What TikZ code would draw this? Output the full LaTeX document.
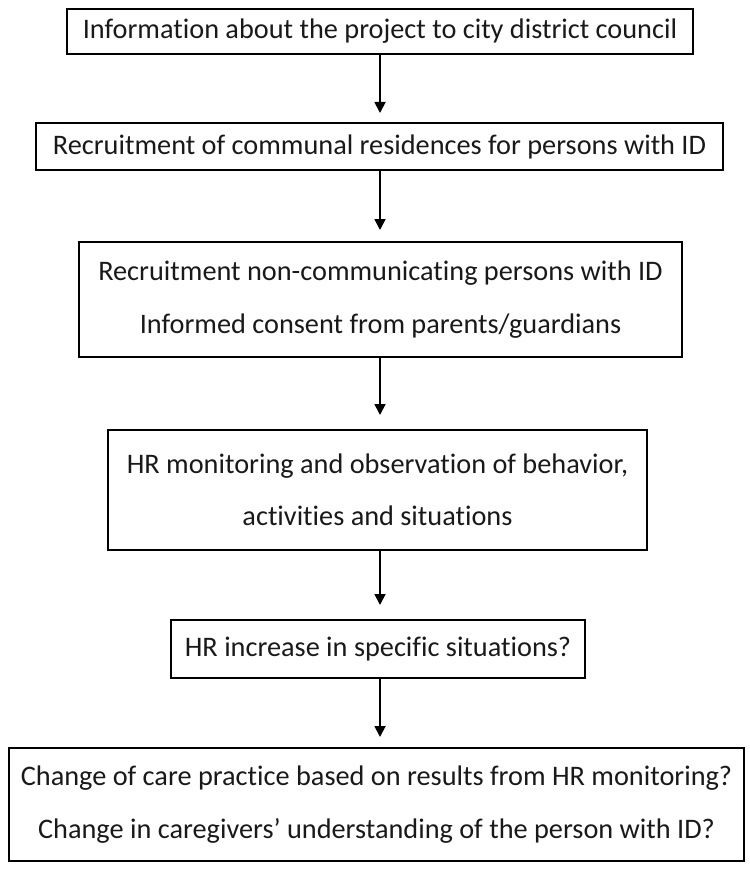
\documentclass[tikz,border=0pt]{standalone}
\usepackage{fontspec}
\setmainfont[Ligatures=NoCommon]{Carlito}
\usetikzlibrary{arrows.meta}
\begin{document}
\begin{tikzpicture}[x=1pt,y=-1pt,
  stepbox/.style={draw=black,line width=1.8pt,rectangle,inner sep=0pt,align=center,
    font=\fontsize{28.3}{52.5}\selectfont,text=black!90},
  arr/.style={line width=1.8pt,-{Triangle[length=11pt,width=11pt]}}]
\useasboundingbox (0,0) rectangle (749,872);
\node[stepbox,minimum width=626pt,minimum height=45pt] (b1) at (380,31.5)
  {Information about the project to city district council};
\node[stepbox,minimum width=687pt,minimum height=47pt] (b2) at (379.5,146.5)
  {Recruitment of communal residences for persons with ID};
\node[stepbox,minimum width=603pt,minimum height=115pt] (b3) at (380.5,299.5)
  {Recruitment non-communicating persons with ID\\Informed consent from parents/guardians};
\node[stepbox,minimum width=539pt,minimum height=120pt] (b4) at (377.5,490)
  {HR monitoring and observation of behavior,\\activities and situations};
\node[stepbox,minimum width=414pt,minimum height=58pt] (b5) at (378,649)
  {HR increase in specific situations?};
\node[stepbox,minimum width=735pt,minimum height=113pt] (b6) at (376.5,804.5)
  {Change of care practice based on results from HR monitoring?\\Change in caregivers’ understanding of the person with ID?};
\coordinate (a1) at (380,113);
\coordinate (a2) at (380,230);
\coordinate (a3) at (380,415);
\coordinate (a4) at (380,605);
\coordinate (a5) at (380,737);
\draw[arr] (b1.south -| a1) -- (a1);
\draw[arr] (b2.south -| a2) -- (a2);
\draw[arr] (b3.south -| a3) -- (a3);
\draw[arr] (b4.south -| a4) -- (a4);
\draw[arr] (b5.south -| a5) -- (a5);
\end{tikzpicture}
\end{document}
